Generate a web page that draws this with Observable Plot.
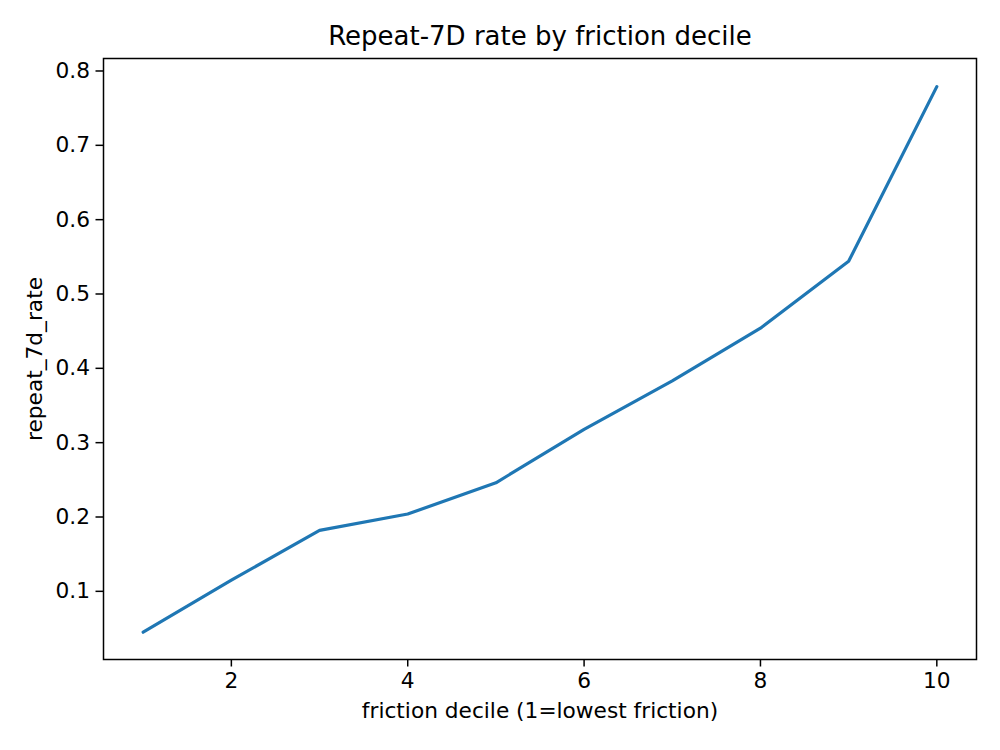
<!DOCTYPE html>
<html>
<head>
<meta charset="utf-8">
<script src="https://cdn.jsdelivr.net/npm/d3@7"></script>
<script src="https://cdn.jsdelivr.net/npm/@observablehq/plot@0.6"></script>
<style>
  body { margin: 0; background: #fff; font-family: "DejaVu Sans", sans-serif; }
  #title { height: 50px; width: 1000px; position: relative; }
  #title span { position: absolute; left: 540px; top: 23px; line-height: 26px; transform: translateX(-50%); font-size: 26px; color: #000; white-space: nowrap; }
</style>
</head>
<body>
<div id="title"><span>Repeat-7D rate by friction decile</span></div>
<div id="chart"></div>
<script>
const deciles = [1, 2, 3, 4, 5, 6, 7, 8, 9, 10];
const repeatRate = [0.045, 0.115, 0.182, 0.204, 0.246, 0.318, 0.383, 0.454, 0.544, 0.779];
const xTicks = [2, 4, 6, 8, 10];
const yTicks = [0.1, 0.2, 0.3, 0.4, 0.5, 0.6, 0.7, 0.8];

const data = deciles.map((d, i) => ({decile: d, rate: repeatRate[i]}));

const chart = Plot.plot({
  width: 1000,
  height: 700,
  marginTop: 8,
  marginBottom: 91,
  marginLeft: 103,
  marginRight: 24,
  style: {fontFamily: "DejaVu Sans, sans-serif", fontSize: "21.7px", color: "#000", background: "#fff"},
  x: {domain: [0.55, 10.45]},
  y: {domain: [0.0083, 0.8168]},
  marks: [
    Plot.frame({stroke: "#000", strokeWidth: 1.5, strokeOpacity: 1}),
    Plot.axisX({ticks: xTicks, tickSize: 7.5, tickPadding: 6, stroke: "#000", strokeWidth: 1.5, strokeOpacity: 1, label: "friction decile (1=lowest friction)", labelAnchor: "center", labelArrow: false, labelOffset: 58, fontSize: 21.7}),
    Plot.axisY({ticks: yTicks, tickFormat: d3.format(".1f"), tickSize: 7.5, tickPadding: 6, stroke: "#000", strokeWidth: 1.5, strokeOpacity: 1, label: "repeat_7d_rate", labelAnchor: "center", labelArrow: false, labelOffset: 77, fontSize: 21.7}),
    Plot.line(data, {x: "decile", y: "rate", stroke: "#1f77b4", strokeWidth: 3.2})
  ]
});
document.getElementById("chart").appendChild(chart);
</script>
</body>
</html>
